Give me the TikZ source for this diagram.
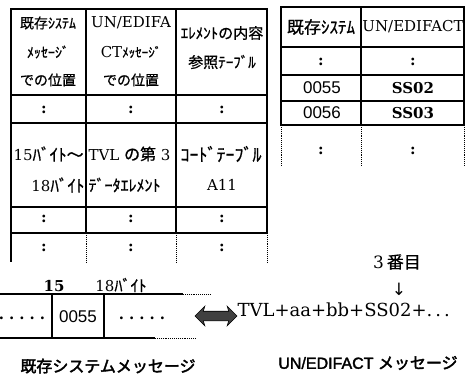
\documentclass[tikz,border=0pt]{standalone}
\usepackage{fontspec}
\setmainfont{DejaVu Serif}
\newfontfamily\jp[FakeBold=0.8,AutoFakeBold=2.5]{Noto Sans CJK JP}
\newfontfamily\ar[AutoFakeBold=2]{Liberation Sans}
\newfontfamily\dv{DejaVu Sans}
\usetikzlibrary{shapes.arrows}
\newcommand\fs[1]{\fontsize{#1}{#1}\selectfont}
\begin{document}
\begin{tikzpicture}[x=1pt,y=-1pt,line width=1.1pt,
  txt/.style={inner sep=0pt,font=\fs{15}},
  btxt/.style={inner sep=0pt,font=\fs{15}\bfseries},
  jtxt/.style={inner sep=0pt,font=\fs{#1}\jp},
  jtxt/.default=14,
  num/.style={inner sep=0pt,font=\fs{17}\ar},
  colon/.style={inner sep=0pt,font=\fs{15}\bfseries},
  dotline/.style={densely dotted,line width=0.9pt},
  captext/.style={inner sep=0pt,font=\fs{16}\jp\bfseries}]
\useasboundingbox (0,0) rectangle (472,380);

% ---------- left table ----------
\draw (11,9) rectangle (267,233);
\draw (11,95) -- (267,95);
\draw (11,123) -- (267,123);
\draw (11,207) -- (267,207);
\draw (86,9) -- (86,233);
\draw (176,9) -- (176,233);
\draw (11,233) -- (11,262);
\draw[dotline] (86,233) -- (86,262);
\draw[dotline] (176,233) -- (176,262);
\draw[dotline] (267,233) -- (267,262);

\node[jtxt] (h11) at (48,23) {既存ｼｽﾃﾑ};
\node[jtxt] (h12) at (48,52) {ﾒｯｾｰｼﾞ};
\node[jtxt] (h13) at (48,80) {での位置};
\node[txt] (h21) at (131,23) {UN/EDIFA};
\node[txt] (h22) at (131,52) {CT{\fs{13}\jp ﾒｯｾｰｼﾞ}};
\node[jtxt] (h23) at (131,80) {での位置};
\node[jtxt=15] (h31) at (222,33) {ｴﾚﾒﾝﾄの内容};
\node[jtxt=15] (h32) at (222,62) {参照ﾃｰﾌﾞﾙ};

\node[txt,anchor=west] (m11) at (13,154) {15{\fs{17}\jp ﾊﾞｲﾄ～}};
\node[txt,anchor=east] (m12) at (85,185) {18{\fs{17}\jp ﾊﾞｲﾄ}};
\node[txt,anchor=west] (m21) at (88,154) {TVL {\fs{16}\jp の第} 3};
\node[jtxt=16,anchor=west] (m22) at (88,185) {ﾃﾞｰﾀｴﾚﾒﾝﾄ};
\node[jtxt=18] (m31) at (221,154) {ｺｰﾄﾞﾃｰﾌﾞﾙ};
\node[txt] (m32) at (222,185) {A11};

\node[colon] (lc11) at (44,110) {:};
\node[colon] (lc12) at (131,110) {:};
\node[colon] (lc13) at (222,110) {:};
\node[colon] (lc21) at (44,219) {:};
\node[colon] (lc22) at (131,219) {:};
\node[colon] (lc23) at (222,219) {:};
\node[colon] (lc31) at (44,248) {:};
\node[colon] (lc32) at (131,248) {:};
\node[colon] (lc33) at (222,248) {:};

% ---------- right table ----------
\draw (281,7) rectangle (464,125);
\draw (281,47) -- (464,47);
\draw (281,75) -- (464,75);
\draw (281,101) -- (464,101);
\draw (361,7) -- (361,125);
\draw[dotline] (281,125) -- (281,165);
\draw[dotline] (361,125) -- (361,165);
\draw[dotline] (464,125) -- (464,165);

\node[jtxt=17] (r11) at (321,27) {既存ｼｽﾃﾑ};
\node[txt] (r12) at (413,27) {UN/EDIFACT};
\node[colon] (rc11) at (321,62) {:};
\node[colon] (rc12) at (413,62) {:};
\node[num] (r21) at (322,88) {0055};
\node[btxt] (r22) at (413,88) {SS02};
\node[num] (r31) at (322,113) {0056};
\node[btxt] (r32) at (413,113) {SS03};
\node[colon] (rc21) at (321,151) {:};
\node[colon] (rc22) at (413,151) {:};

% ---------- message bar ----------
\draw (0,294) -- (183,294);
\draw[dotline] (183,294) -- (210,294);
\draw (0,338) -- (155,338);
\draw[dotline] (155,338) -- (195,338);
\draw (52,294) -- (52,338);
\draw (104,294) -- (104,338);

\node[btxt] (b15) at (54,286) {15};
\node[txt] (b18) at (121,285) {18{\fs{16}\jp ﾊﾞｲﾄ}};
\node[btxt] (bd1) at (22,318) {.\,\,.\,\,.\,\,.\,\,.};
\node[num] (b55) at (78,317) {0055};
\node[btxt] (bd2) at (142,318) {.\,\,.\,\,.\,\,.\,\,.};

\node[double arrow,fill=gray!50!black,draw=black,line width=0.6pt,
      minimum height=42pt,inner sep=4.5pt,double arrow head extend=5pt,
      double arrow head indent=1.5pt] (dbl) at (216,316) {};

\node[inner sep=0pt,anchor=base west,font=\fs{18}] (tvl) at (237,316) {TVL+aa+bb+SS02+.\,.\,.};
\node[inner sep=0pt,font=\fs{17}] (n3) at (397,262) {3\,{\jp 番目}};
\node[inner sep=0pt,font=\fs{17}\dv] (down) at (399,289) {↓};

\node[captext] (cap1) at (108,366) {既存システムメッセージ};
\node[inner sep=0pt,font=\fs{16}\ar\bfseries] (cap2) at (368,363) {UN/EDIFACT {\jp メッセージ}};
\end{tikzpicture}
\end{document}
